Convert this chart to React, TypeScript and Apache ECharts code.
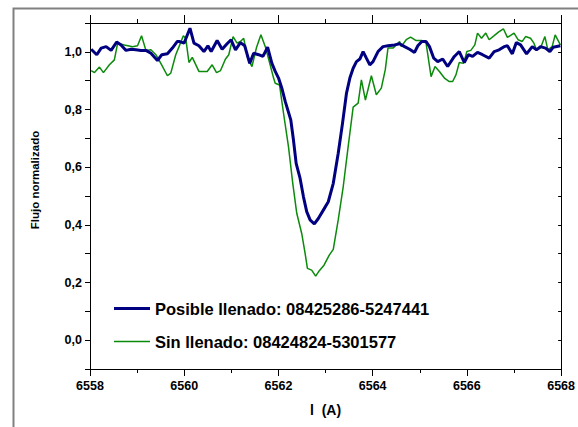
import React, { useEffect, useRef } from "react";
import * as echarts from "echarts";

const blueLambda = [
  6558.025, 6558.144, 6558.237, 6558.342, 6558.448, 6558.566, 6558.659, 6558.765, 6558.87, 6558.976,
  6559.081, 6559.187, 6559.293, 6559.432, 6559.525, 6559.643, 6559.749, 6559.854, 6559.89, 6559.996,
  6560.122, 6560.207, 6560.312, 6560.418, 6560.503, 6560.572, 6560.699, 6560.805, 6560.91, 6560.995,
  6561.088, 6561.193, 6561.284, 6561.39, 6561.474, 6561.58, 6561.671, 6561.77, 6561.861, 6561.932,
  6562.002, 6562.072, 6562.144, 6562.262, 6562.319, 6562.376, 6562.46, 6562.53, 6562.6, 6562.672,
  6562.762, 6562.847, 6562.953, 6563.058, 6563.164, 6563.269, 6563.36, 6563.445, 6563.516, 6563.586,
  6563.656, 6563.728, 6563.797, 6563.867, 6563.939, 6564.008, 6564.114, 6564.22, 6564.325, 6564.467,
  6564.572, 6564.678, 6564.784, 6564.889, 6564.959, 6565.043, 6565.134, 6565.206, 6565.297, 6565.381,
  6565.487, 6565.592, 6565.734, 6565.839, 6565.945, 6566.03, 6566.121, 6566.226, 6566.332, 6566.473,
  6566.579, 6566.684, 6566.79, 6566.86, 6566.965, 6567.05, 6567.14, 6567.267, 6567.388, 6567.478,
  6567.563, 6567.668, 6567.761, 6567.831, 6567.985,
];
const blueFlux = [
  1.009, 0.99, 1.013, 1.018, 1.005, 1.034, 1.024, 1.005, 1.009, 1.007,
  1.005, 1.005, 0.995, 0.97, 0.99, 0.993, 1.013, 1.036, 1.036, 1.03,
  1.082, 1.03, 1.021, 1.001, 1.021, 1.001, 1.039, 1.009, 1.028, 1.042,
  1.007, 1.032, 1.021, 0.96, 0.995, 0.99, 0.984, 1.016, 0.96, 0.932,
  0.909, 0.874, 0.828, 0.764, 0.694, 0.613, 0.561, 0.498, 0.446, 0.417,
  0.403, 0.422, 0.451, 0.48, 0.544, 0.648, 0.752, 0.857, 0.909, 0.943,
  0.966, 0.975, 1.001, 0.978, 0.955, 0.966, 1.001, 1.018, 1.021, 1.024,
  1.028, 1.018, 1.009, 0.998, 1.021, 1.036, 1.036, 1.018, 0.978, 0.966,
  0.975, 0.949, 0.984, 1.001, 0.963, 0.99, 0.984, 0.998, 0.99, 0.978,
  1.001, 1.007, 1.018, 1.021, 0.993, 1.032, 1.024, 0.993, 1.018, 1.007,
  1.018, 1.013, 1.001, 1.016, 1.021,
];

const greenLambda = [
  6558.025, 6558.095, 6558.201, 6558.285, 6558.412, 6558.517, 6558.587, 6558.729, 6558.904, 6559.009,
  6559.094, 6559.187, 6559.293, 6559.398, 6559.504, 6559.643, 6559.715, 6559.82, 6559.89, 6559.981,
  6560.032, 6560.101, 6560.171, 6560.312, 6560.488, 6560.593, 6560.686, 6560.771, 6560.876, 6560.946,
  6561.037, 6561.121, 6561.193, 6561.263, 6561.347, 6561.438, 6561.531, 6561.628, 6561.721, 6561.8,
  6561.897, 6561.932, 6562.023, 6562.108, 6562.213, 6562.304, 6562.389, 6562.494, 6562.566, 6562.615,
  6562.705, 6562.79, 6562.868, 6562.967, 6563.079, 6563.164, 6563.269, 6563.375, 6563.48, 6563.586,
  6563.692, 6563.761, 6563.846, 6563.973, 6564.078, 6564.184, 6564.268, 6564.325, 6564.431, 6564.501,
  6564.572, 6564.606, 6564.712, 6564.805, 6564.923, 6565.043, 6565.134, 6565.24, 6565.324, 6565.417,
  6565.523, 6565.628, 6565.698, 6565.768, 6565.839, 6565.93, 6566.0, 6566.084, 6566.169, 6566.226,
  6566.311, 6566.401, 6566.473, 6566.579, 6566.684, 6566.775, 6566.86, 6567.001, 6567.086, 6567.176,
  6567.246, 6567.351, 6567.423, 6567.478, 6567.563, 6567.656, 6567.719, 6567.81, 6567.874, 6567.985,
];
const greenFlux = [
  0.935, 0.928, 0.947, 0.928, 0.955, 0.972, 1.03, 1.024, 1.018, 1.021,
  1.056, 1.005, 1.007, 0.99, 0.96, 0.917, 0.926, 0.99, 1.018, 1.056,
  1.047, 0.963, 0.981, 0.932, 0.932, 0.955, 0.928, 0.935, 0.975, 0.99,
  1.053, 1.03, 1.036, 1.047, 0.978, 0.949, 1.013, 1.059, 1.018, 0.97,
  0.909, 0.891, 0.885, 0.787, 0.671, 0.544, 0.44, 0.37, 0.301, 0.249,
  0.243, 0.222, 0.241, 0.26, 0.295, 0.315, 0.417, 0.532, 0.671, 0.808,
  0.822, 0.903, 0.833, 0.917, 0.851, 0.874, 0.938, 1.013, 1.013, 1.024,
  1.036, 1.018, 1.042, 1.051, 1.039, 1.039, 1.03, 0.914, 0.949, 0.932,
  0.909, 0.897, 0.897, 0.92, 0.963, 0.96, 1.001, 1.005, 1.024, 1.065,
  1.047, 1.065, 1.042, 1.056, 1.07, 1.08, 1.05, 1.065, 1.042, 1.036,
  1.053, 1.047, 1.03, 1.007, 1.013, 1.053, 1.007, 1.018, 1.059, 1.024,
];

const blueName = "Posible llenado: 08425286-5247441";
const greenName = "Sin llenado: 08424824-5301577";
const yTitle = "Flujo normalizado";
const xTitle = "l  (A)";

const FONT = 'Arial, "Liberation Sans", sans-serif';
const BLUE = "#000080";
const GREEN = "#0b8a0b";

export default function App() {
  const ref = useRef<HTMLDivElement>(null);
  useEffect(() => {
    if (!ref.current) return;
    const chart = echarts.init(ref.current, null, { renderer: "svg" });
    const bold = { fontFamily: FONT, fontWeight: "bold" as const, color: "#000" };
    const yFmt = (v: number) => {
      const k = Math.round(v * 10);
      if (k < 0 || k > 10 || k % 2 !== 0) return "";
      return (k / 10).toFixed(1).replace(".", ",");
    };
    chart.setOption({
      animation: false,
      backgroundColor: "#fff",
      graphic: [
        {
          type: "rect",
          left: 11,
          top: 6,
          shape: { width: 620, height: 480 },
          style: { fill: "none", stroke: "#808080", lineWidth: 2 },
          silent: true,
        },
        {
          type: "text",
          x: 35,
          y: 180,
          rotation: Math.PI / 2,
          style: {
            text: yTitle,
            fontFamily: FONT,
            fontWeight: "bold",
            fontSize: 11.5,
            fill: "#000",
            align: "center",
            verticalAlign: "middle",
          },
          silent: true,
        },
      ],
      grid: { left: 90, right: 14, top: 23, bottom: 58, containLabel: false },
      legend: [
        {
          data: [blueName],
          left: 109,
          top: 295,
          icon: "rect",
          itemWidth: 36,
          itemHeight: 3,
          textStyle: { ...bold, fontSize: 16.5 },
        },
        {
          data: [greenName],
          left: 109,
          top: 328,
          icon: "rect",
          itemWidth: 36,
          itemHeight: 1.5,
          textStyle: { ...bold, fontSize: 16.5 },
        },
      ],
      xAxis: [
        {
          type: "value",
          position: "bottom",
          min: 6558,
          max: 6568,
          interval: 2,
          axisLine: { show: true, onZero: false, lineStyle: { color: "#000", width: 1 } },
          axisTick: { show: true, inside: false, length: 7, lineStyle: { color: "#000" } },
          minorTick: { show: true, splitNumber: 2, length: 4, lineStyle: { color: "#000" } },
          splitLine: { show: false },
          axisLabel: { ...bold, fontSize: 12.5, margin: 10, formatter: (v: number) => String(v) },
          name: xTitle,
          nameLocation: "middle",
          nameGap: 34,
          nameTextStyle: { ...bold, fontSize: 14 },
        },
        {
          type: "value",
          position: "top",
          min: 6558,
          max: 6568,
          interval: 2,
          axisLine: { show: true, onZero: false, lineStyle: { color: "#000", width: 1 } },
          axisTick: { show: true, inside: false, length: 8, lineStyle: { color: "#000" } },
          minorTick: { show: true, splitNumber: 2, length: 4, lineStyle: { color: "#000" } },
          splitLine: { show: false },
          axisLabel: { show: false },
        },
      ],
      yAxis: [
        {
          type: "value",
          position: "left",
          min: -0.1,
          max: 1.1,
          interval: 0.1,
          axisLine: { show: true, onZero: false, lineStyle: { color: "#000", width: 1 } },
          axisTick: { show: true, inside: false, length: 5, lineStyle: { color: "#000" } },
          splitLine: { show: false },
          axisLabel: { ...bold, fontSize: 12.5, margin: 8, formatter: yFmt },
        },
        {
          type: "value",
          position: "right",
          min: -0.1,
          max: 1.1,
          interval: 0.1,
          axisLine: { show: true, onZero: false, lineStyle: { color: "#000", width: 1 } },
          axisTick: { show: true, inside: true, length: 3, lineStyle: { color: "#000" } },
          splitLine: { show: false },
          axisLabel: { show: false },
        },
      ],
      series: [
        {
          name: greenName,
          type: "line",
          xAxisIndex: 0,
          yAxisIndex: 0,
          showSymbol: false,
          symbol: "none",
          data: greenLambda.map((x, i) => [x, greenFlux[i]]),
          lineStyle: { color: GREEN, width: 1.5 },
          itemStyle: { color: GREEN },
        },
        {
          name: blueName,
          type: "line",
          xAxisIndex: 0,
          yAxisIndex: 0,
          showSymbol: false,
          symbol: "none",
          data: blueLambda.map((x, i) => [x, blueFlux[i]]),
          lineStyle: { color: BLUE, width: 3 },
          itemStyle: { color: BLUE },
        },
      ],
    });
    return () => chart.dispose();
  }, []);
  return (
    <div
      ref={ref}
      style={{ position: "absolute", left: 0, top: 0, width: 578, height: 427, background: "#fff" }}
    />
  );
}
